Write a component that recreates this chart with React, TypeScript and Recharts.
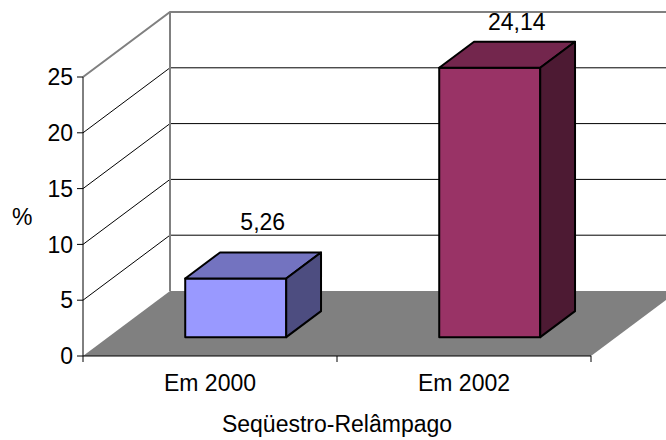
import { Bar, BarChart, CartesianGrid, XAxis, YAxis } from "recharts"

const categories = ["Em 2000", "Em 2002"]
const values = [5.26, 24.14]
const yTicks = [0, 5, 10, 15, 20, 25]

const data = categories.map((name, i) => ({ name, value: values[i] }))

// colours for each bar: front, top and side faces
const FRONT = ["#9999FF", "#993366"]
const TOP = ["#7373C0", "#73264D"]
const SIDE = ["#4D4D80", "#4D1A33"]

const FONT = "'Liberation Sans', Arial, sans-serif"
const WALL = "#808080"

// depth of the 3D box (back wall offset) and where the bars sit inside it
const DX = 87
const DY = 65
const BAR_FRONT = 0.29
const BAR_DEPTH = 0.4

const fmt = (v: number) => v.toFixed(2).replace(".", ",")

function WallLine(p: any) {
  const { x1, x2, y1, y, height, index } = p
  const bottom = y + height
  if (Math.abs(y1 - bottom) < 0.5) {
    const n = categories.length
    const step = (x2 - x1) / n
    return (
      <g key={`wall-${index}`}>
        <polygon
          points={`${x1},${y1} ${x2},${y1} ${x2 + DX},${y1 - DY} ${x1 + DX},${y1 - DY}`}
          fill="#808080"
        />
        {Array.from({ length: n + 1 }, (_, i) => (
          <line key={i} x1={x1 + i * step} x2={x1 + i * step} y1={y1} y2={y1 + 6} stroke="#000" />
        ))}
      </g>
    )
  }
  const top = Math.abs(y1 - y) < 0.5
  const stroke = top ? WALL : "#000"
  const sw = top ? 2 : 1
  return (
    <g key={`wall-${index}`}>
      <polyline
        points={`${x1},${y1} ${x1 + DX},${y1 - DY} ${x2 + DX},${y1 - DY}`}
        fill="none"
        stroke={stroke}
        strokeWidth={sw}
      />
      {top && (
        <line x1={x1 + DX} x2={x1 + DX} y1={y1 - DY} y2={bottom - DY} stroke={WALL} strokeWidth={2} />
      )}
    </g>
  )
}

function Box3D(props: any) {
  const { x, y, width: w, height: h, index, payload } = props
  const fx = x + DX * BAR_FRONT
  const fy = y - DY * BAR_FRONT
  const bx = DX * BAR_DEPTH
  const by = DY * BAR_DEPTH
  const labelY = Math.max(fy - by - 22, 30)
  return (
    <g stroke="#000" strokeWidth={2} strokeLinejoin="round">
      <rect x={fx} y={fy} width={w} height={h} fill={FRONT[index]} />
      <polygon
        points={`${fx},${fy} ${fx + bx},${fy - by} ${fx + w + bx},${fy - by} ${fx + w},${fy}`}
        fill={TOP[index]}
      />
      <polygon
        points={`${fx + w},${fy} ${fx + w + bx},${fy - by} ${fx + w + bx},${fy + h - by} ${fx + w},${fy + h}`}
        fill={SIDE[index]}
      />
      <text
        x={fx + w / 2 + 27}
        y={labelY}
        textAnchor="middle"
        stroke="none"
        fill="#000"
        fontSize={23}
        fontFamily={FONT}
      >
        {fmt(payload.value)}
      </text>
    </g>
  )
}

export default function App() {
  return (
    <div style={{ position: "absolute", left: 0, top: 0, background: "#fff" }}>
      <BarChart
        width={666}
        height={440}
        data={data}
        margin={{ top: 77, right: 75, bottom: 0, left: 0 }}
        style={{ fontFamily: FONT }}
      >
        <CartesianGrid vertical={false} horizontal={WallLine} />
        <XAxis
          dataKey="name"
          height={84}
          tickLine={false}
          tickMargin={13}
          axisLine={{ stroke: "#000" }}
          tick={{ fill: "#000", fontSize: 23, fontFamily: FONT }}
          label={{
            value: "Seqüestro-Relâmpago",
            position: "insideBottom",
            offset: 8,
            fill: "#000",
            fontSize: 23,
            fontFamily: FONT,
          }}
        />
        <YAxis
          width={83}
          domain={[0, 25]}
          ticks={yTicks}
          tickMargin={4}
          axisLine={{ stroke: "#000" }}
          tickLine={{ stroke: "#000" }}
          tick={{ fill: "#000", fontSize: 23, fontFamily: FONT }}
          label={{ value: "%", position: "insideLeft", offset: 12, fill: "#000", fontSize: 23, fontFamily: FONT }}
        />
        <Bar dataKey="value" barSize={101} shape={Box3D} isAnimationActive={false} activeBar={false} />
      </BarChart>
    </div>
  )
}
